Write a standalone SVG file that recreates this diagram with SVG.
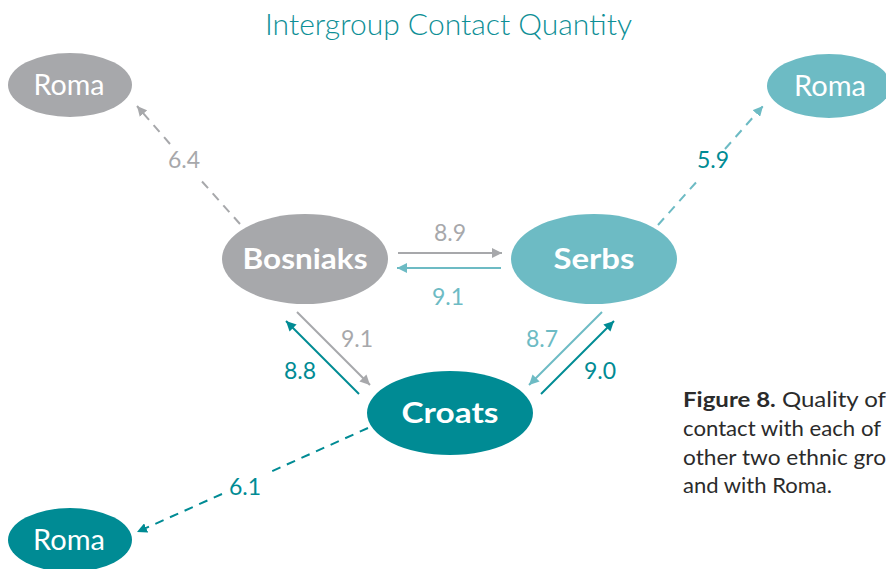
<svg xmlns="http://www.w3.org/2000/svg" width="886" height="569" viewBox="0 0 886 569">
<style>
.gray{fill:#a7a8ab}.lt{fill:#6dbbc4}.dk{fill:#008b94}
.lbl{font-family:"Lato","Open Sans","DejaVu Sans",sans-serif;font-size:23px;font-weight:400;text-anchor:middle}
.node{font-family:"Lato","Open Sans","DejaVu Sans",sans-serif;fill:#fff;text-anchor:middle}
.bold{font-weight:700;font-size:29px}
.roma{font-size:28px;font-weight:400}
.ln{fill:none;stroke-width:2}
.dash{stroke-dasharray:9 7}
.sg{stroke:#a7a8ab}.sl{stroke:#6dbbc4}.sd{stroke:#008b94}
.cap{font-family:"Lato","Open Sans","DejaVu Sans",sans-serif;font-size:21px;fill:#2b2b2b}
</style>
<defs>
<marker id="ag" viewBox="0 0 10 10" refX="10" refY="5" markerWidth="10" markerHeight="10" markerUnits="userSpaceOnUse" orient="auto"><path d="M0,0 L10,5 L0,10 z" fill="#a7a8ab"/></marker>
<marker id="al" viewBox="0 0 10 10" refX="10" refY="5" markerWidth="10" markerHeight="10" markerUnits="userSpaceOnUse" orient="auto"><path d="M0,0 L10,5 L0,10 z" fill="#6dbbc4"/></marker>
<marker id="ad" viewBox="0 0 10 10" refX="10" refY="5" markerWidth="10" markerHeight="10" markerUnits="userSpaceOnUse" orient="auto"><path d="M0,0 L10,5 L0,10 z" fill="#008b94"/></marker>
</defs>
<rect width="886" height="569" fill="#fff"/>
<text x="265" y="35" textLength="367" lengthAdjust="spacingAndGlyphs" font-family="Lato,'Open Sans','DejaVu Sans',sans-serif" font-size="29" font-weight="300" fill="#0e8f96">Intergroup Contact Quantity</text>

<g id="connectors">
<line class="ln sg dash" x1="240" y1="224" x2="198" y2="177"/>
<line class="ln sg dash" x1="170" y1="144" x2="137" y2="106" marker-end="url(#ag)"/>
<line class="ln sl dash" x1="658" y1="225" x2="700" y2="178"/>
<line class="ln sl dash" x1="725" y1="149" x2="763" y2="106" marker-end="url(#al)"/>
<line class="ln sd dash" x1="368" y1="428" x2="268" y2="473"/>
<line class="ln sd dash" x1="222" y1="494" x2="137" y2="532" marker-end="url(#ad)"/>
<line class="ln sg" x1="398" y1="253" x2="502" y2="253" marker-end="url(#ag)"/>
<line class="ln sl" x1="501" y1="268" x2="397" y2="268" marker-end="url(#al)"/>
<line class="ln sg" x1="297" y1="312" x2="370" y2="385" marker-end="url(#ag)"/>
<line class="ln sd" x1="359" y1="394" x2="286" y2="321" marker-end="url(#ad)"/>
<line class="ln sl" x1="602" y1="312" x2="529" y2="385" marker-end="url(#al)"/>
<line class="ln sd" x1="541" y1="394" x2="614" y2="321" marker-end="url(#ad)"/>
<text class="lbl gray" x="184" y="168">6.4</text>
<text class="lbl dk" x="713" y="168">5.9</text>
<text class="lbl dk" x="245" y="495">6.1</text>
<text class="lbl gray" x="450" y="241">8.9</text>
<text class="lbl lt" x="448" y="305">9.1</text>
<text class="lbl gray" x="357" y="347">9.1</text>
<text class="lbl dk" x="300" y="379">8.8</text>
<text class="lbl lt" x="542" y="347">8.7</text>
<text class="lbl dk" x="600" y="379">9.0</text>
</g>

<g id="roma-bosniaks"><ellipse cx="70" cy="85" rx="62" ry="32" class="gray"/><text class="node roma" x="69" y="95" textLength="71" lengthAdjust="spacingAndGlyphs">Roma</text></g>
<g id="roma-serbs"><ellipse cx="829" cy="86" rx="62" ry="32" class="lt"/><text class="node roma" x="830" y="96" textLength="72" lengthAdjust="spacingAndGlyphs">Roma</text></g>
<g id="roma-croats"><ellipse cx="70" cy="540" rx="62" ry="32" class="dk"/><text class="node roma" x="69" y="550" textLength="72" lengthAdjust="spacingAndGlyphs">Roma</text></g>
<g id="bosniaks"><ellipse cx="305" cy="259" rx="83" ry="45" class="gray"/><text class="node bold" x="305" y="269" textLength="125" lengthAdjust="spacingAndGlyphs">Bosniaks</text></g>
<g id="serbs"><ellipse cx="594" cy="259" rx="83" ry="45" class="lt"/><text class="node bold" x="594" y="269" textLength="81" lengthAdjust="spacingAndGlyphs">Serbs</text></g>
<g id="croats"><ellipse cx="450" cy="413" rx="83" ry="42" class="dk"/><text class="node bold" x="450" y="423" textLength="97" lengthAdjust="spacingAndGlyphs">Croats</text></g>

<g id="caption">
<text class="cap" x="683" y="407" textLength="203" lengthAdjust="spacingAndGlyphs"><tspan font-weight="700">Figure 8.</tspan> Quality of</text>
<text class="cap" x="683" y="436" textLength="198" lengthAdjust="spacingAndGlyphs">contact with each of</text>
<text class="cap" x="683" y="465" textLength="203" lengthAdjust="spacingAndGlyphs">other two ethnic gro</text>
<text class="cap" x="683" y="493" textLength="149" lengthAdjust="spacingAndGlyphs">and with Roma.</text>
</g>
</svg>
